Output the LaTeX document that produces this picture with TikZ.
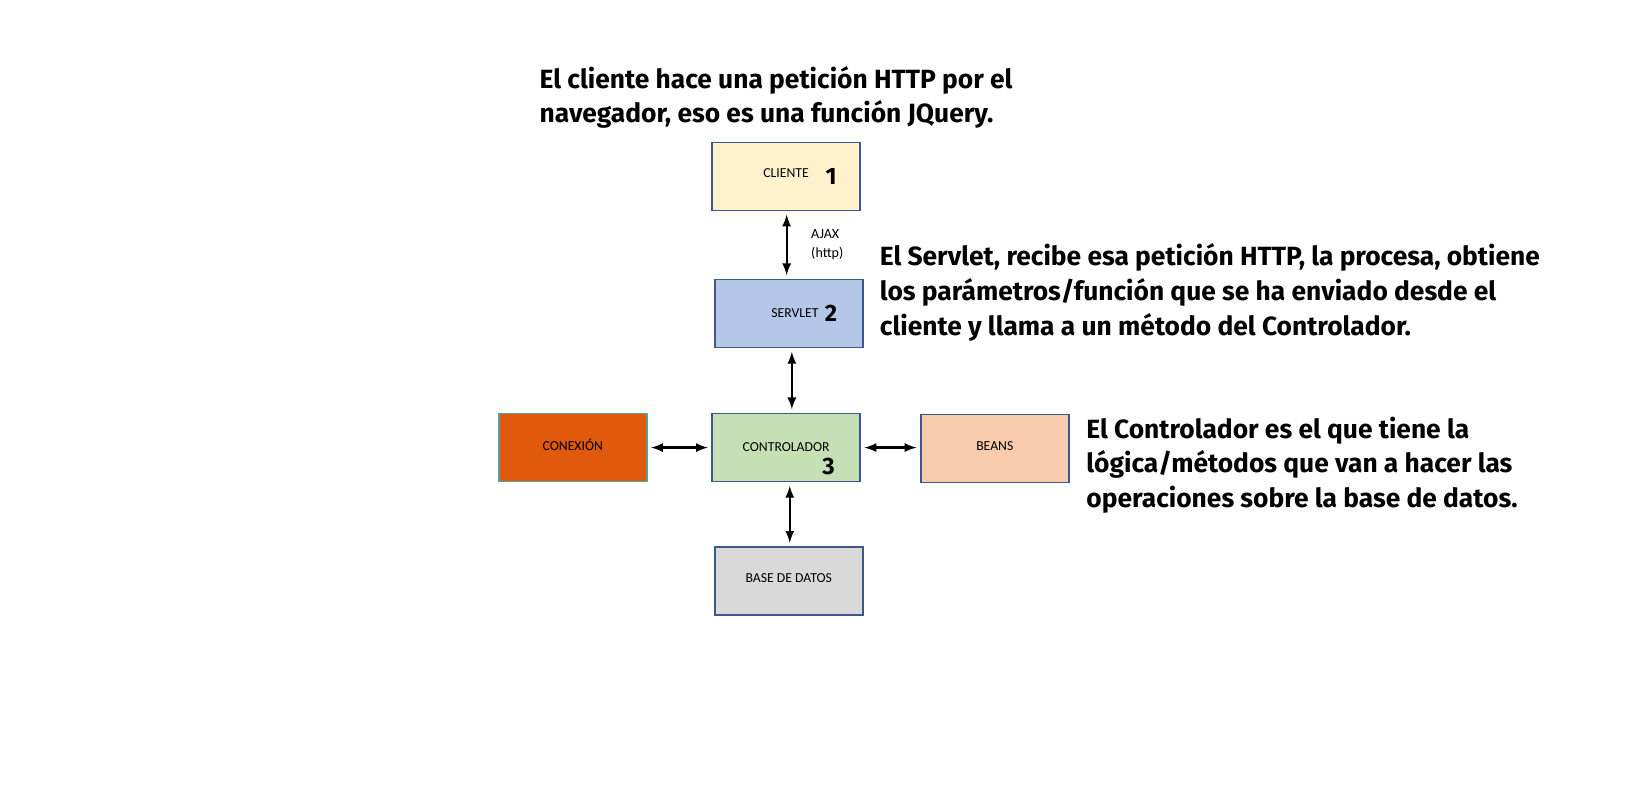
\documentclass[tikz,border=0pt]{standalone}
\usepackage{fontspec}
\setmainfont{Carlito}
\newfontfamily\notefont{Fira Sans}
\usetikzlibrary{arrows,positioning}

\definecolor{clientefill}{HTML}{FFF2CC}
\definecolor{servletfill}{HTML}{B4C7E7}
\definecolor{controlfill}{HTML}{C5E0B4}
\definecolor{conexfill}{HTML}{E0590C}
\definecolor{conexdraw}{HTML}{52A39E}
\definecolor{beansfill}{HTML}{F8CBAD}
\definecolor{basefill}{HTML}{D9D9D9}
\definecolor{boxdraw}{HTML}{3B5A8A}

\tikzset{
  caja/.style={draw=boxdraw, line width=0.9pt, minimum width=2.96cm, minimum height=1.36cm, inner sep=0pt, font=\fontsize{7.8}{9}\selectfont},
  num/.style={font=\notefont\bfseries\fontsize{13.5}{13.5}\selectfont, inner sep=0pt},
  nota/.style={anchor=north west, align=left, inner sep=0pt, font=\notefont\bfseries\fontsize{15}{19.8}\selectfont},
  flecha/.style={latex-latex, line width=1.3pt, shorten <=2pt, shorten >=2pt}
}

\begin{document}
\begin{tikzpicture}[x=0.020866cm,y=-0.020866cm]
	\useasboundingbox[fill=white] (0,0) rectangle (1570,755.3);
	% cajas
	\node[caja, fill=clientefill] (cliente) at (753.5,169) {\raisebox{3.5pt}{CLIENTE}};
	\node[caja, fill=servletfill] (servlet) at (756,300.5) {\hspace{7pt}SERVLET};
	\node[caja, fill=controlfill] (control) at (753.5,429) {\raisebox{0.6pt}{CONTROLADOR}};
	\node[caja, fill=conexfill, draw=conexdraw] (conexion) at (549,429) {\raisebox{3.5pt}{CONEXIÓN}};
	\node[caja, fill=beansfill] (beans) at (953.5,430) {\raisebox{3.5pt}{BEANS}};
	\node[caja, fill=basefill] (base) at (756,557) {\raisebox{3pt}{BASE DE DATOS}};
	% numeros
	\node[num, left=13.6pt of cliente.east] {1};
	\node[num, left=14.8pt of servlet.east] {2};
	\node[num, left=14.8pt of control.east, yshift=-10.6pt] {3};
	% flechas
	\draw[flecha] (cliente.south -| 754,0) -- (servlet.north -| 754,0)
		node[midway, right=10pt, align=left, font=\fontsize{8}{11}\selectfont] {AJAX\\(http)};
	\draw[flecha] (servlet.south -| 759,0) -- (control.north -| 759,0);
	\draw[flecha] (conexion.east) -- (control.west);
	\draw[flecha] (control.east) -- (beans.west |- control.east);
	\draw[flecha] (control.south -| 757,0) -- (base.north -| 757,0);
	% notas
	\node[nota] at (517,63) {El cliente hace una petición HTTP por el\\navegador, eso es una función JQuery.};
	\node[nota] at (843,233) {El Servlet, recibe esa petición HTTP, la procesa, obtiene\\los parámetros/función que se ha enviado desde el\\cliente y llama a un método del Controlador.};
	\node[nota] at (1041,399) {El Controlador es el que tiene la\\lógica/métodos que van a hacer las\\operaciones sobre la base de datos.};
\end{tikzpicture}
\end{document}
